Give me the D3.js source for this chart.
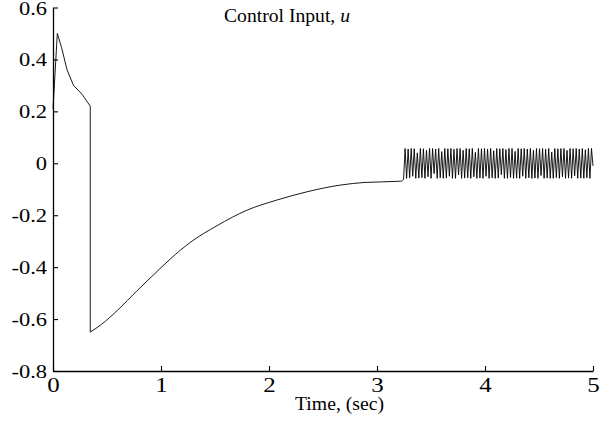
<!DOCTYPE html>
<html>
<head>
<meta charset="utf-8">
<script src="https://cdn.jsdelivr.net/npm/d3@7"></script>
<style>
  body { margin: 0; background: #fff; }
  text { font-family: "Liberation Serif", "Times New Roman", serif; fill: #000; }
</style>
</head>
<body>
<div class="chart"></div>
<script>
// sliding-mode control input
var timeSec = [0, 0.04, 0.08, 0.13, 0.19, 0.27, 0.345, 0.345, 0.45, 0.6, 0.78, 0.93, 1.09, 1.27, 1.52, 1.8, 2.07, 2.35, 2.66, 2.88, 3.22, 3.246];
var controlU = [0.21, 0.5, 0.445, 0.36, 0.3, 0.265, 0.22, -0.65, -0.62, -0.565, -0.49, -0.43, -0.367, -0.305, -0.24, -0.18, -0.142, -0.11, -0.084, -0.074, -0.069, -0.062];

// chattering part after 3.26 s, one value per sample
var chatterStart = 3.26, chatterEnd = 5.0;
var chatterU = [
  0.057, -0.058, 0.055, -0.056, 0.057, -0.05, 0.056, -0.058, 0.04, -0.057,
  0.057, -0.055, 0.056, -0.058, 0.05, -0.052, 0.057, -0.058, 0.057, -0.04,
  0.055, -0.058, 0.057, -0.056, 0.045, -0.058, 0.057, -0.057, 0.056, -0.05,
  0.057, -0.058, 0.054, -0.058, 0.057, -0.045, 0.057, -0.058, 0.05, -0.057,
  0.057, -0.056, 0.056, -0.058, 0.057, -0.052, 0.042, -0.058, 0.057, -0.057,
  0.056, -0.058, 0.057, -0.05, 0.055, -0.058, 0.057, -0.056, 0.048, -0.058,
  0.057, -0.057, 0.056, -0.044, 0.057, -0.058, 0.053, -0.058, 0.057, -0.055,
  0.057, -0.058, 0.046, -0.057, 0.057, -0.058, 0.056, -0.05, 0.057, -0.058,
  0.055, -0.056, 0.057, -0.058, 0.05, -0.057, 0.057, -0.058, 0.056, -0.047,
  0.057, -0.058, 0.054, -0.057, 0.057, -0.058, 0.043, -0.058, 0.057, -0.055,
  0.056, -0.058, 0.057, -0.052, 0.057, -0.058, 0.05, -0.057, 0.057, -0.058,
  0.056, -0.048, 0.057, -0.058, 0.055, -0.057, 0.057, -0.058, 0.052, -0.056,
  0.057, -0.058, 0.057, -0.01
];

var xTicks = [0, 1, 2, 3, 4, 5];
var yTicks = [-0.8, -0.6, -0.4, -0.2, 0, 0.2, 0.4, 0.6];

var width = 610, height = 424;
var margin = { top: 7.5, right: 17, bottom: 53, left: 53 };

var svg = d3.select(".chart").append("svg")
  .attr("width", width)
  .attr("height", height);

var x = d3.scaleLinear().domain([0, 5]).range([margin.left, width - margin.right]);
var y = d3.scaleLinear().domain([-0.8, 0.6]).range([height - margin.bottom, margin.top]);

var pts = timeSec.map(function (t, i) { return [t, controlU[i]]; });
var step = (chatterEnd - chatterStart) / (chatterU.length - 1);
var chatter = [pts[pts.length - 1]];
chatterU.forEach(function (u, i) { chatter.push([chatterStart + i * step, u]); });

var lineLin = d3.line().x(function (d) { return x(d[0]); }).y(function (d) { return y(d[1]); });
var lineSmooth = d3.line().curve(d3.curveMonotoneX).x(function (d) { return x(d[0]); }).y(function (d) { return y(d[1]); });

// first pulse + switching drop, then the smooth recovery, then the chattering
[
  { d: pts.slice(0, 8), gen: lineLin },
  { d: pts.slice(7), gen: lineSmooth },
  { d: chatter, gen: lineLin }
].forEach(function (seg) {
  svg.append("path")
    .datum(seg.d)
    .attr("fill", "none")
    .attr("stroke", "#000")
    .attr("stroke-width", 0.9)
    .attr("d", seg.gen);
});

// axes, ticks pointing inward
var xAxis = svg.append("g")
  .attr("transform", "translate(0," + y(-0.8) + ")")
  .call(d3.axisBottom(x).tickValues(xTicks).tickSizeInner(-5).tickSizeOuter(0).tickFormat(d3.format("d")));
xAxis.selectAll("text")
  .attr("x", 0).attr("y", 0).attr("dy", 0)
  .attr("transform", "translate(0,21) scale(1.25,1)")
  .style("font-size", "20px");

var yAxis = svg.append("g")
  .attr("transform", "translate(" + x(0) + ",0)")
  .call(d3.axisLeft(y).tickValues(yTicks).tickSizeInner(-5).tickSizeOuter(0)
    .tickFormat(function (d) { return d === 0 ? "0" : d3.format(".1f")(d).replace("−", "-"); }));
yAxis.selectAll("text")
  .attr("x", 0).attr("dy", 0)
  .attr("transform", "translate(-6,6.5) scale(1.25,1)")
  .style("font-size", "18px");

svg.selectAll(".domain").attr("stroke", "#000").attr("stroke-width", 1.3);
svg.selectAll(".tick line").attr("stroke", "#000").attr("stroke-width", 1.1);
svg.selectAll(".tick text").style("font-family", "'Liberation Serif', serif").attr("fill", "#000");

var title = svg.append("text")
  .attr("x", 224).attr("y", 22)
  .attr("textLength", 126)
  .attr("lengthAdjust", "spacingAndGlyphs")
  .style("font-size", "18px");
title.append("tspan").text("Control Input, ");
title.append("tspan").style("font-style", "italic").text("u");

svg.append("text")
  .attr("x", 295).attr("y", 410)
  .attr("textLength", 89)
  .attr("lengthAdjust", "spacingAndGlyphs")
  .style("font-size", "18px")
  .text("Time, (sec)");
</script>
</body>
</html>
